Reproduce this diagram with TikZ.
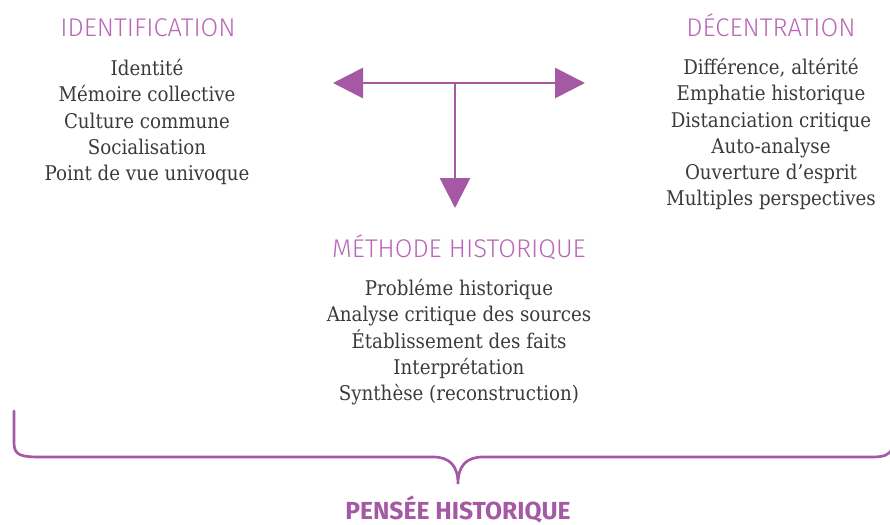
\documentclass[tikz,border=0pt]{standalone}
\usepackage{fontspec}
\setmainfont{DejaVu Serif Condensed}
\newfontfamily\titlefont{Fira Sans Light}
\newfontfamily\headfont{Fira Sans}
\usetikzlibrary{arrows.meta}
\usepackage{xcolor}
\definecolor{titlepurple}{RGB}{184,104,182}
\definecolor{arrowpurple}{RGB}{165,89,165}
\definecolor{bodygray}{RGB}{58,58,58}
\tikzset{
  title/.style={anchor=base,inner sep=0pt,text=titlepurple,font=\titlefont\fontsize{19.2pt}{21pt}\selectfont},
  itemlist/.style={anchor=north,inner sep=0pt,align=center,text=bodygray,font=\fontsize{15.2pt}{19.7pt}\selectfont},
  bigarrow/.style={draw=arrowpurple,line width=2.2pt,-{Triangle[width=22.5pt,length=22.5pt]}},
  brace/.style={draw=arrowpurple,line width=2pt,line cap=round}
}
\begin{document}
\begin{tikzpicture}[x=0.75pt,y=-0.75pt]
  \useasboundingbox (0,0) rectangle (890,525);

  \node[title] (ident_t) at (148,36) {IDENTIFICATION};
  \node[itemlist] (ident_l) at (147,59) {Identité\\Mémoire collective\\Culture commune\\Socialisation\\Point de vue univoque};

  \node[title] (decent_t) at (771,36) {DÉCENTRATION};
  \node[itemlist] (decent_l) at (771,58) {Différence, altérité\\Emphatie historique\\Distanciation critique\\Auto-analyse\\Ouverture d'esprit\\Multiples perspectives};

  \node[title] (method_t) at (459,257) {MÉTHODE HISTORIQUE};
  \node[itemlist] (method_l) at (459,279) {Probléme historique\\Analyse critique des sources\\Établissement des faits\\Interprétation\\Synthèse (reconstruction)};

%  Arrows
  \coordinate (hub) at (455,83);
  \coordinate (left_tip) at (333,83);
  \coordinate (right_tip) at (585,83);
  \coordinate (down_tip) at (455,208);

  \draw[bigarrow] (hub) -- (left_tip);
  \draw[bigarrow] (hub) -- (right_tip);
  \draw[bigarrow] (hub) -- (down_tip);

%  Brace
  \coordinate (brace_n1) at (14,411);
  \coordinate (brace_tip) at (458,484);
  \coordinate (brace_n2) at (892,449);

  \draw[brace] (brace_n1) -- (14,443) .. controls (14,456) and (22,457) .. (42,457)
    -- (433,457) .. controls (450,457) and (458,466) .. (brace_tip)
    .. controls (458,466) and (466,457) .. (483,457)
    -- (872,457) .. controls (884,457) and (889,455) .. (brace_n2);

  \node[anchor=base,inner sep=0pt,text=arrowpurple,font=\headfont\bfseries\fontsize{18.5pt}{20pt}\selectfont] (pensee) at (458,519) {PENSÉE HISTORIQUE};
\end{tikzpicture}
\end{document}
